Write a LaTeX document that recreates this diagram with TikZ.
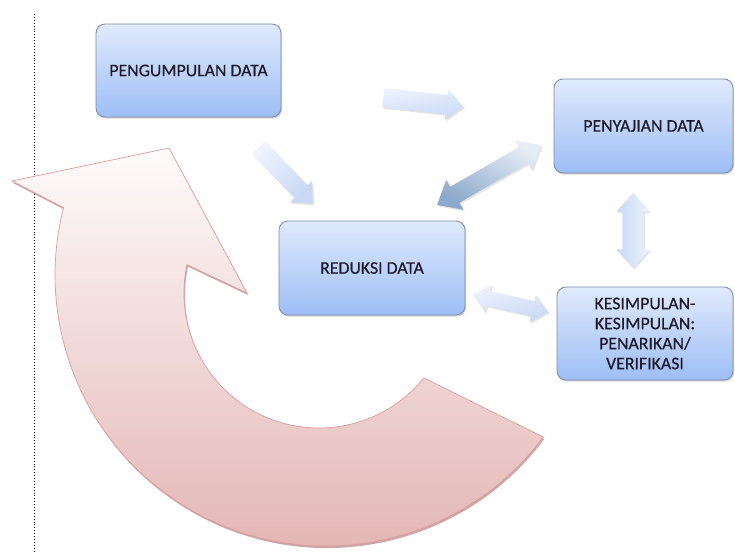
\documentclass[tikz,border=0pt]{standalone}
\usepackage{fontspec}
\setmainfont{Carlito}[FakeBold=0.4]
\usetikzlibrary{shapes.arrows,shadows}
\definecolor{boxtop}{HTML}{E0EAFC}
\definecolor{boxbot}{HTML}{9EBEF6}
\definecolor{boxline}{HTML}{7C8AA4}
\definecolor{arrtop}{HTML}{EEF3FD}
\definecolor{arrbot}{HTML}{C8D8F5}
\definecolor{darktop}{HTML}{E6EDF6}
\definecolor{darkbot}{HTML}{8CA8CC}
\definecolor{redtop}{HTML}{FEFBFB}
\definecolor{redbot}{HTML}{E2B0B0}
\definecolor{redline}{HTML}{D99C9C}
\definecolor{txt}{HTML}{1E1A2A}
\begin{document}
\begin{tikzpicture}[x=1pt,y=-1pt,
  box/.style={draw=boxline, line width=0.8pt, rounded corners=9pt,
    top color=boxtop, bottom color=boxbot, align=center, text=txt,
    font=\fontsize{17.8}{20}\selectfont, inner sep=2pt,
    drop shadow={opacity=0.35, shadow xshift=1pt, shadow yshift=-1.5pt}},
  blk/.style={draw=none, inner xsep=0pt,
    drop shadow={opacity=0.22, shadow xshift=1.5pt, shadow yshift=-1.5pt}},
  sarr/.style={blk, shape=single arrow, single arrow head indent=0pt},
  darr/.style={blk, shape=double arrow, double arrow head indent=0pt}
]
\useasboundingbox (0,0) rectangle (735,552);

% dotted margin line
\coordinate (lt) at (34,14);
\coordinate (lb) at (34,552);
\draw[dotted, line width=0.9pt] (lt) -- (lb);

% big red circular arrow
\path[draw=redline, line width=0.7pt, top color=redtop, bottom color=redbot,
      drop shadow={opacity=0.35, color=red!45!black, shadow xshift=1pt, shadow yshift=-2pt}]
  (543.3,437) arc[start angle=36.7, end angle=194.4, radius=271]
  -- (12,181) -- (169,148) -- (247,293) -- (187,264.7)
  arc[start angle=192.1, end angle=39, radius=135] -- cycle;

% boxes
\node[box, minimum width=185pt, minimum height=93pt] (peng) at (188.5,70.5) {PENGUMPULAN DATA};
\node[box, minimum width=179pt, minimum height=94pt] (peny) at (643.5,126) {PENYAJIAN DATA};
\node[box, minimum width=186pt, minimum height=94pt] (red) at (372,268) {REDUKSI DATA};
\node[box, minimum width=176pt, minimum height=93pt] (kes) at (645,333.5) {KESIMPULAN-\\KESIMPULAN:\\PENARIKAN/\\VERIFIKASI};

% block arrows
\node[sarr, top color=arrtop, bottom color=arrbot, shading angle=6.4,
  inner ysep=9.5pt, minimum height=80.5pt, single arrow head extend=5.5pt,
  single arrow tip angle=84, rotate=-6.4] (a1) at (418,101.5) {};
\node[sarr, top color=arrtop, bottom color=arrbot, shading angle=46,
  inner ysep=9pt, minimum height=78pt, single arrow head extend=6pt,
  single arrow tip angle=84, rotate=-46] (a2) at (282,172) {};
\node[darr, top color=darktop, bottom color=darkbot, shading angle=-30,
  inner ysep=9pt, minimum height=120pt, double arrow head extend=8pt,
  double arrow tip angle=80, rotate=30] (a3) at (489,175) {};
\node[darr, top color=arrtop, bottom color=arrbot, shading angle=-90,
  inner ysep=10.5pt, minimum height=75pt, double arrow head extend=6pt,
  double arrow tip angle=84, rotate=90] (a4) at (633,230.5) {};
\node[darr, top color=arrtop, bottom color=arrbot, shading angle=12.8,
  inner ysep=7.5pt, minimum height=77pt, double arrow head extend=6.5pt,
  double arrow tip angle=84, rotate=-12.8] (a5) at (510.5,303.5) {};
\end{tikzpicture}
\end{document}
